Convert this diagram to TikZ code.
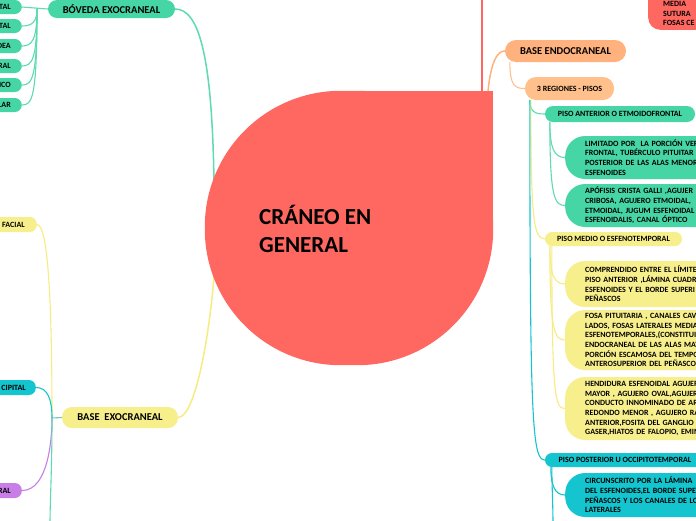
\documentclass[tikz,border=0pt]{standalone}
\usepackage{fontspec}
\setmainfont{Carlito}
\usetikzlibrary{backgrounds}
\definecolor{cRed}{RGB}{255,104,97}
\definecolor{cTeal}{RGB}{70,214,166}
\definecolor{cTealL}{RGB}{95,218,178}
\definecolor{cStub}{RGB}{115,200,186}
\definecolor{cYel}{RGB}{247,238,140}
\definecolor{cYelL}{RGB}{246,236,130}
\definecolor{cOra}{RGB}{255,178,126}
\definecolor{cOraL}{RGB}{255,192,140}
\definecolor{cCyan}{RGB}{20,196,206}
\definecolor{cPur}{RGB}{200,126,230}
\begin{document}
\begin{tikzpicture}[x=1pt,y=-1pt,
  sm/.style={font=\fontsize{8}{9.7}\selectfont\bfseries},
  md/.style={font=\fontsize{10.5}{12}\selectfont\bfseries},
  pill/.style={rounded corners=7pt, inner sep=0pt},
  kid/.style={pill, sm, anchor=east, text width=48, align=right, minimum height=14},
  big/.style={sm, anchor=west, rounded corners=20pt, text width=150, align=left, inner xsep=20pt, inner ysep=0pt},
  conn/.style={line width=1.1pt, line cap=round},
  trunk/.style={line width=1.5pt, line cap=round},
]
\useasboundingbox (0,0) rectangle (696,520);

% central topic
\node[minimum width=288, minimum height=274, inner sep=0pt] (root) at (349,228) {};
\fill[cRed, rounded corners=136pt] (root.south west) rectangle (root.north east);
\fill[cRed] (root.center) rectangle (root.north east);
\node[anchor=west, align=left, inner sep=0pt, font=\fontsize{23}{28}\selectfont\bfseries] (title) at (259,229) {CRÁNEO EN\\GENERAL};

\coordinate (rootT) at (482,91);
\coordinate (redup) at (482,-2);
\coordinate (rootR) at (488,91);
\coordinate (rootL1) at (214,181);
\coordinate (rootL2) at (214,276);

% top right red node
\node[fill=cRed, rounded corners=12pt, minimum width=70, minimum height=60, anchor=south west, inner sep=0pt] (redn) at (648,30) {};
\node[sm, anchor=west, align=left, inner sep=0pt] (redtxt) at (663,13.5) {MEDIA\\SUTURA\\FOSAS CE};

% right side
\node[pill, md, fill=cOra, minimum width=121, minimum height=22, rounded corners=11pt] (bend) at (565.5,51) {BASE ENDOCRANEAL};
\node[pill, sm, fill=cOraL, minimum width=89, minimum height=23, rounded corners=11pt] (reg) at (569.5,88.5) {3 REGIONES - PISOS};

\node[pill, sm, fill=cTeal, minimum width=150, minimum height=16, rounded corners=8pt] (pa) at (620,114) {PISO ANTERIOR O ETMOIDOFRONTAL};
\node[pill, sm, fill=cYel, minimum width=137, minimum height=14] (pm) at (613.5,239) {PISO MEDIO O ESFENOTEMPORAL};
\node[pill, sm, fill=cCyan, minimum width=160, minimum height=14] (pp) at (625,460) {PISO POSTERIOR U OCCIPITOTEMPORAL};

\node[big, fill=cTeal, minimum height=43] (pa1) at (565,157.5) {LIMITADO POR\ \ LA PORCIÓN VER\\FRONTAL, TUBÉRCULO PITUITAR\\POSTERIOR DE LAS ALAS MENOR\\ESFENOIDES};
\node[big, fill=cTeal, minimum height=43] (pa2) at (565,205.5) {APÓFISIS CRISTA GALLI ,AGUJER\\CRIBOSA, AGUJERO ETMOIDAL,\\ETMOIDAL, JUGUM ESFENOIDAL\\ESFENOIDALIS, CANAL ÓPTICO};

\node[big, fill=cYel, minimum height=46] (pm1) at (565,284) {COMPRENDIDO ENTRE EL LÍMITE\\PISO ANTERIOR ,LÁMINA CUADR\\ESFENOIDES Y EL BORDE SUPERI\\PEÑASCOS};
\node[big, fill=cYel, minimum height=60] (pm2) at (565,340) {FOSA PITUITARIA , CANALES CAVE\\LADOS, FOSAS LATERALES MEDIAS\\ESFENOTEMPORALES,(CONSTITUI\\ENDOCRANEAL DE LAS ALAS MAY\\PORCIÓN ESCAMOSA DEL TEMPOR\\ANTEROSUPERIOR DEL PEÑASCO};
\node[big, fill=cYel, minimum height=63] (pm3) at (565,408.5) {HENDIDURA ESFENOIDAL AGUJER\\MAYOR , AGUJERO OVAL,AGUJERO\\CONDUCTO INNOMINADO DE ARN\\REDONDO MENOR , AGUJERO RAS\\ANTERIOR,FOSITA DEL GANGLIO D\\GASER,HIATOS DE FALOPIO, EMIN};

\node[big, fill=cCyan, minimum height=44] (pp1) at (565,495) {CIRCUNSCRITO POR LA LÁMINA\\DEL ESFENOIDES,EL BORDE SUPE\\PEÑASCOS Y LOS CANALES DE LO\\LATERALES};
\coordinate (ppmore) at (553,525);

% left side
\node[pill, md, fill=cTeal, minimum width=127, minimum height=18, rounded corners=9pt] (bov) at (111.5,9) {BÓVEDA EXOCRANEAL};
\node[kid, fill=cTeal, inner xsep=11pt] (b1) at (22,7) {TAL};
\node[kid, fill=cTeal, inner xsep=11pt] (b2) at (22,26) {TAL};
\node[kid, fill=cTeal, inner xsep=11pt] (b3) at (22,46) {DEA};
\node[kid, fill=cTeal, inner xsep=11pt] (b4) at (22,66) {RAL};
\node[kid, fill=cTeal, inner xsep=11pt] (b5) at (22,85) {ICO};
\node[kid, fill=cTeal, inner xsep=11pt] (b6) at (22,105) {LAR};
\coordinate (bj) at (37,9);

\node[pill, md, fill=cYel, minimum width=116, minimum height=21, rounded corners=10pt] (bex) at (120,417.5) {BASE\ \ EXOCRANEAL};
\node[kid, fill=cYel, inner xsep=12pt, minimum height=15] (fac) at (37,224.5) {FACIAL};
\node[kid, fill=cCyan, inner xsep=10pt, minimum height=15] (cip) at (36,387.5) {CIPITAL};
\node[kid, fill=cPur, inner xsep=11pt, minimum height=15] (ara) at (22,490.5) {ARAL};
\coordinate (xj) at (52,418);
\coordinate (xdown) at (50,525);

\begin{scope}[on background layer]
  \fill[white] (0,0) rectangle (696,520);
  % central branches
  \draw[trunk, cRed] (rootT) -- (redup);
  \draw[trunk, cOra] (rootR) .. controls (491,62) and (497,51) .. (bend.west);
  \draw[trunk, cTealL] (bov.east) .. controls (200,9) and (212,60) .. (rootL1);
  \draw[trunk, cYelL] (bex.east) .. controls (196,417) and (210,330) .. (rootL2);
  % right
  \draw[conn, cOraL] ([xshift=5pt]bend.south west) .. controls (510,86) and (515,88.5) .. (reg.west);
  \draw[conn, cTealL] ([xshift=5pt]reg.south west) .. controls (530,112) and (535,114) .. (pa.west);
  \draw[conn, cYelL] ([xshift=6pt]reg.south west) .. controls (531,215) and (533,239) .. (pm.west);
  \draw[conn, cCyan] ([xshift=5pt]reg.south west) .. controls (530,420) and (532,460) .. (pp.west);
  \draw[conn, cTealL] ([xshift=5pt]pa.south west) .. controls (550,148) and (554,157.5) .. (pa1.west);
  \draw[conn, cTealL] ([xshift=5pt]pa.south west) .. controls (550,196) and (554,205.5) .. (pa2.west);
  \draw[conn, cYelL] ([xshift=5pt]pm.south west) .. controls (550,275) and (554,284) .. (pm1.west);
  \draw[conn, cYelL] ([xshift=5pt]pm.south west) .. controls (550,330) and (554,340) .. (pm2.west);
  \draw[conn, cYelL] ([xshift=7pt]pm.south west) .. controls (552,398) and (555,408.5) .. (pm3.west);
  \draw[conn, cCyan] ([xshift=6pt]pp.south west) .. controls (551,486) and (555,495) .. (pp1.west);
  \draw[conn, cCyan] ([xshift=7pt]pp.south west) .. controls (552,490) and (553,505) .. (ppmore);
  % left top
  \draw[conn, cTealL] (bov.west) -- (b1.east);
  \draw[conn, cTealL] (bj) .. controls (37,22) and (32,26) .. (b2.east);
  \draw[conn, cTealL] (bj) .. controls (37,40) and (32,46) .. (b3.east);
  \draw[conn, cTealL] (bj) .. controls (37,60) and (32,66) .. (b4.east);
  \draw[conn, cTealL] (bj) .. controls (37,79) and (32,85) .. (b5.east);
  \draw[conn, cTealL] (bj) .. controls (37,99) and (32,105) .. (b6.east);
  % left bottom
  \draw[conn, cStub] (bex.west) -- (xj);
  \draw[conn, cYelL] (fac.east) .. controls (48,224.5) and (52,300) .. (xj);
  \draw[conn, cCyan] (cip.east) .. controls (48,387.5) and (52,400) .. (xj);
  \draw[conn, cPur] (ara.east) .. controls (48,490.5) and (52,440) .. (xj);
  \draw[conn, cTealL] (xj) .. controls (52,470) and (50,500) .. (xdown);
\end{scope}
\end{tikzpicture}
\end{document}
